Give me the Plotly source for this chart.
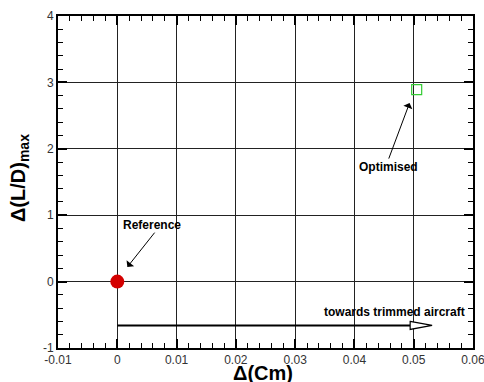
import plotly.graph_objects as go

# Data
ref_x = [0.0]
ref_y = [0.0]
opt_x = [0.0505]
opt_y = [2.89]

x_ticks = [-0.01, 0, 0.01, 0.02, 0.03, 0.04, 0.05, 0.06]
x_tick_labels = ["-0.01", "0", "0.01", "0.02", "0.03", "0.04", "0.05", "0.06"]
y_ticks = [-1, 0, 1, 2, 3, 4]
y_tick_labels = ["-1", "0", "1", "2", "3", "4"]

x_title = "<b>Δ(Cm)</b>"
y_title = "<b>Δ(L/D)<sub>max</sub></b>"

# annotation anchors (data coordinates)
ref_label_xy = (0.0058, 0.86)
ref_tip_xy = (0.0017, 0.22)
opt_label_xy = (0.0457, 1.73)
opt_tip_xy = (0.0493, 2.69)
trim_label_xy = (0.0468, -0.46)
trim_arrow_start = (0.0, -0.66)
trim_head_base_x = 0.0494
trim_head_tip_x = 0.0531
trim_head_half = 0.06

FONT = "Liberation Sans, Arial, Helvetica, sans-serif"

fig = go.Figure()
fig.add_trace(go.Scatter(x=ref_x, y=ref_y, mode="markers",
                         marker=dict(symbol="circle", size=14, color="#d40000"),
                         showlegend=False, cliponaxis=False))
fig.add_trace(go.Scatter(x=opt_x, y=opt_y, mode="markers",
                         marker=dict(symbol="square-open", size=10, color="#33cc33",
                                     line=dict(width=1.2)),
                         showlegend=False))

# towards trimmed aircraft arrow
fig.add_shape(type="line", xref="x", yref="y",
              x0=trim_arrow_start[0], y0=trim_arrow_start[1],
              x1=trim_head_base_x, y1=trim_arrow_start[1],
              line=dict(color="black", width=2))
yc = trim_arrow_start[1]
path = (f"M {trim_head_base_x} {yc + trim_head_half} "
        f"L {trim_head_tip_x} {yc} "
        f"L {trim_head_base_x} {yc - trim_head_half} Z")
fig.add_shape(type="path", xref="x", yref="y", path=path,
              line=dict(color="black", width=1.2), fillcolor="white")

ann_font = dict(family=FONT, size=12, color="black")
fig.add_annotation(x=ref_tip_xy[0], y=ref_tip_xy[1], ax=ref_label_xy[0] + 0.0007, ay=ref_label_xy[1] - 0.1,
                   xref="x", yref="y", axref="x", ayref="y", text="",
                   showarrow=True, arrowhead=1, arrowsize=1.6, arrowwidth=1, arrowcolor="black")
fig.add_annotation(x=ref_label_xy[0], y=ref_label_xy[1], xref="x", yref="y",
                   text="<b>Reference</b>", showarrow=False, font=ann_font)
fig.add_annotation(x=opt_tip_xy[0], y=opt_tip_xy[1], ax=opt_label_xy[0], ay=opt_label_xy[1] + 0.1,
                   xref="x", yref="y", axref="x", ayref="y", text="",
                   showarrow=True, arrowhead=1, arrowsize=1.6, arrowwidth=1, arrowcolor="black")
fig.add_annotation(x=opt_label_xy[0], y=opt_label_xy[1], xref="x", yref="y",
                   text="<b>Optimised</b>", showarrow=False, font=ann_font)
fig.add_annotation(x=trim_label_xy[0], y=trim_label_xy[1], xref="x", yref="y",
                   text="<b>towards trimmed aircraft</b>", showarrow=False, font=ann_font)

# axis titles
title_font = dict(family=FONT, size=20, color="black")
fig.add_annotation(x=0.493, y=-0.074, xref="paper", yref="paper", xanchor="center",
                   yanchor="middle", text=x_title, showarrow=False, font=title_font)
fig.add_annotation(x=-0.094, y=0.512, xref="paper", yref="paper", xanchor="center",
                   yanchor="middle", text=y_title, showarrow=False, font=title_font,
                   textangle=-90)

axis_common = dict(
    showline=True, linecolor="black", linewidth=2, mirror="allticks",
    ticks="inside", ticklen=9, tickwidth=2, tickcolor="black",
    showgrid=True, gridcolor="#222222", gridwidth=1, zeroline=False,
    tickfont=dict(family=FONT, size=12, color="#333333"), automargin=False,
    ticklabeloverflow="allow",
)

fig.update_xaxes(range=[-0.01, 0.06], tickvals=x_ticks, ticktext=x_tick_labels,
                 minor=dict(dtick=0.002, ticks="inside", ticklen=5, tickwidth=1,
                            tickcolor="black", showgrid=False),
                 **axis_common)
fig.update_yaxes(range=[-1, 4], tickvals=y_ticks, ticktext=y_tick_labels,
                 minor=dict(dtick=0.2, ticks="inside", ticklen=5, tickwidth=1,
                            tickcolor="black", showgrid=False),
                 **axis_common)

fig.update_layout(width=484, height=382, margin=dict(l=58, r=11, t=16, b=34),
                  plot_bgcolor="white", paper_bgcolor="white", showlegend=False)

fig.write_html("out.html")
